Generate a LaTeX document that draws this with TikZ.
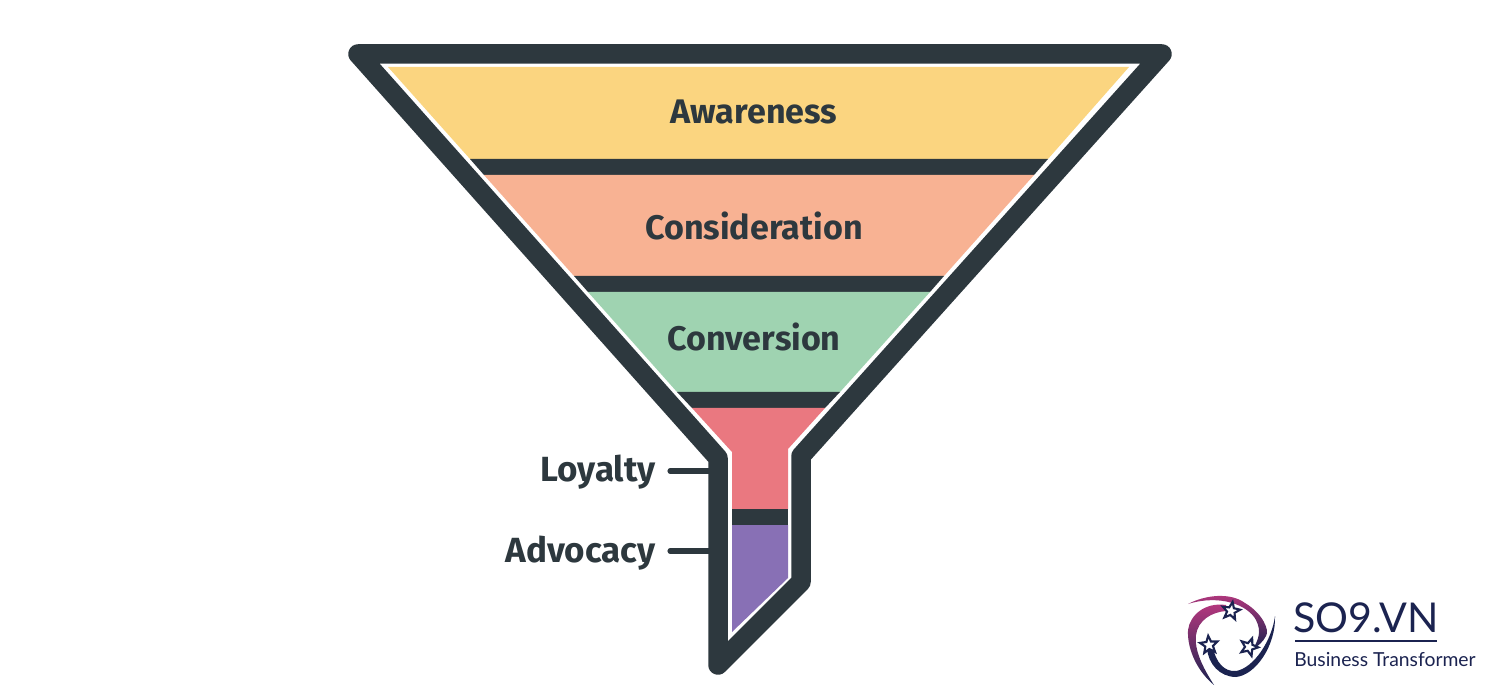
\documentclass[tikz,border=0pt]{standalone}
\usepackage{fontspec}
\setmainfont{Fira Sans}
\newfontfamily\logofont{Lato}
\usetikzlibrary{shapes.geometric}
\definecolor{ink}{HTML}{2D383E}
\definecolor{cyellow}{HTML}{FBD580}
\definecolor{corange}{HTML}{F8B293}
\definecolor{cgreen}{HTML}{9FD3B1}
\definecolor{cred}{HTML}{EA7880}
\definecolor{cpurple}{HTML}{8870B5}
\definecolor{navy}{HTML}{1B2350}
\definecolor{magenta}{HTML}{B8387F}
\tikzset{
  funnelline/.style={draw=ink,line width=11.1pt,line join=round,line cap=round},
  bandlabel/.style={text=ink,font=\bfseries\fontsize{19.4}{21}\selectfont,inner sep=0pt,anchor=center},
  sidelabel/.style={text=ink,font=\bfseries\fontsize{19.9}{21}\selectfont,inner sep=0pt,anchor=east},
  leader/.style={draw=ink,line width=2.9pt,line cap=round},
  logostar/.style={star,star points=5,star point ratio=2.3,minimum size=10.5pt,inner sep=0pt,draw=navy,fill=white,line width=1.2pt},
}
\begin{document}
\begin{tikzpicture}[x=0.02cm,y=-0.02cm]
\useasboundingbox (0,0) rectangle (1500,695);
\fill[white] (0,0) rectangle (1500,695);
% bands
\fill[cyellow] (388,67) -- (1129,67) -- (1048,159) -- (470,159) -- cycle;
\fill[ink] (470,159) -- (1048,159) -- (1034,175) -- (484,175) -- cycle;
\fill[corange] (484,175) -- (1034,175) -- (944,276) -- (574,276) -- cycle;
\fill[ink] (574,276) -- (944,276) -- (930,292) -- (588,292) -- cycle;
\fill[cgreen] (588,292) -- (930,292) -- (840,392) -- (677,392) -- cycle;
\fill[ink] (677,392) -- (840,392) -- (825,408) -- (692,408) -- cycle;
\fill[cred] (692,408) -- (825,408) -- (788,449) -- (788,509) -- (732,509) -- (732,452) -- cycle;
\fill[ink] (732,509) -- (788,509) -- (788,525) -- (732,525) -- cycle;
\fill[cpurple] (732,525) -- (788,525) -- (788,578) -- (732,632) -- cycle;
% funnel outline
\draw[funnelline] (358,54) -- (1162,54) -- (801,456) -- (801,582) -- (718,665) -- (718,458) -- cycle;
% labels
\node[bandlabel] (aw) at (754,112) {Awareness};
\node[bandlabel] (co) at (754,226) {Consideration};
\node[bandlabel] (cv) at (754,337) {Conversion};
\node[sidelabel] (lo) at (656,472.5) {Loyalty};
\node[sidelabel] (ad) at (656,553) {Advocacy};
\coordinate (lostart) at (670,471);
\coordinate (adstart) at (670,551);
\coordinate (loend) at (712,471);
\coordinate (adend) at (712,551);
\draw[leader] (lostart) -- (loend);
\draw[leader] (adstart) -- (adend);
% logo
\shade[left color=magenta,right color=navy,shading angle=0]
  (1188,604) .. controls (1205,595) and (1230,592) .. (1245,603)
  .. controls (1262,613) and (1270,630) .. (1266,636)
  .. controls (1263,642) and (1258,646) .. (1253,649)
  .. controls (1258,640) and (1262,632) .. (1256,620)
  .. controls (1248,605) and (1220,594) .. (1188,604) -- cycle;
\shade[top color=magenta,bottom color=navy]
  (1226,605) .. controls (1205,602) and (1190,615) .. (1188,630)
  .. controls (1187,650) and (1198,672) .. (1214,685)
  .. controls (1203,668) and (1194,650) .. (1196,635)
  .. controls (1198,620) and (1212,612) .. (1226,611) -- cycle;
\fill[navy]
  (1207,648) .. controls (1208,664) and (1220,677) .. (1236,677)
  .. controls (1256,675) and (1276,645) .. (1275,616)
  .. controls (1272,640) and (1254,668) .. (1236,671)
  .. controls (1224,672) and (1216,662) .. (1213,648) -- cycle;
\node[logostar,rotate=-10] (s1) at (1231,611) {};
\node[logostar,rotate=5] (s2) at (1209,645) {};
\node[logostar,rotate=-20] (s3) at (1249,647) {};
\node[anchor=west,inner sep=0pt,text=navy,font=\logofont\fontsize{23.4}{26}\selectfont] (brand) at (1293,618) {SO9.VN};
\node[anchor=west,inner sep=0pt,text=navy,font=\logofont\fontsize{11}{13}\selectfont] (tag) at (1294,660) {Business Transformer};
\fill[navy] (1295,639.5) rectangle (1437,641.5);
\end{tikzpicture}
\end{document}
